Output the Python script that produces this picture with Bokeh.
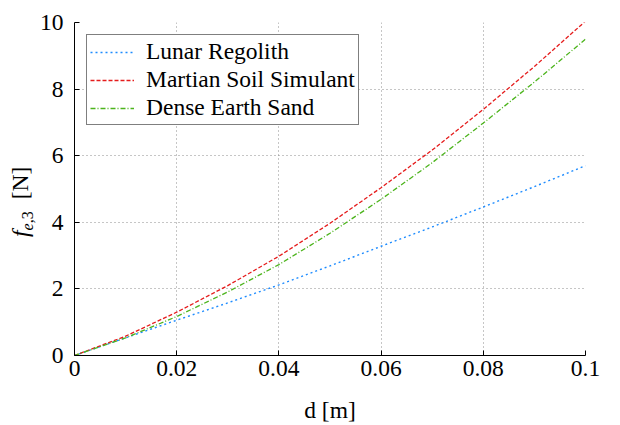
from bokeh.plotting import figure
from bokeh.layouts import row
from bokeh.models import FixedTicker, Legend, LegendItem, Range1d, Div
from bokeh.embed import file_html
from bokeh.resources import INLINE

# ---- data ----
d = [0, 0.01, 0.02, 0.03, 0.04, 0.05, 0.06, 0.07, 0.08, 0.09, 0.1]
lunar = [0, 0.53, 1.06, 1.58, 2.12, 2.69, 3.28, 3.86, 4.46, 5.07, 5.70]
martian = [0, 0.58, 1.30, 2.10, 2.98, 3.97, 5.04, 6.17, 7.39, 8.68, 10.04]
dense = [0, 0.53, 1.17, 1.91, 2.73, 3.67, 4.69, 5.79, 6.98, 8.21, 9.50]

series_names = ["Lunar Regolith", "Martian Soil Simulant", "Dense Earth Sand"]
x_ticks = [0, 0.02, 0.04, 0.06, 0.08, 0.1]
x_tick_labels = ["0", "0.02", "0.04", "0.06", "0.08", "0.1"]
y_ticks = [0, 2, 4, 6, 8, 10]
y_tick_labels = ["0", "2", "4", "6", "8", "10"]
x_title = "d [m]"
y_title_main, y_title_sub_it, y_title_sub, y_title_unit = "f", "e", ",3", "[N]"

FONT = "Liberation Serif"
FS = "23.5px"

p = figure(width=584, height=425, output_backend="svg", toolbar_location=None,
           x_range=Range1d(0, 0.1), y_range=Range1d(0, 10),
           min_border_left=37, min_border_right=35, min_border_top=22,
           min_border_bottom=68)
p.outline_line_color = None
p.background_fill_color = "white"
p.border_fill_color = "white"

r1 = p.line(d, lunar, line_color="#1e8cff", line_width=1.4, line_dash="2 3")
r2 = p.line(d, martian, line_color="#e51c1c", line_width=1.3, line_dash="4 2")
r3 = p.line(d, dense, line_color="#4cb41c", line_width=1.3, line_dash="5 2 1 2")

for ax, ticks, labels in ((p.xaxis[0], x_ticks, x_tick_labels),
                          (p.yaxis[0], y_ticks, y_tick_labels)):
    ax.ticker = FixedTicker(ticks=ticks)
    ax.major_label_overrides = dict(zip(ticks, labels))
    ax.major_label_text_font = FONT
    ax.major_label_text_font_size = FS
    ax.major_label_text_color = "black"
    ax.axis_line_color = "black"
    ax.axis_line_width = 1
    ax.major_tick_line_color = "black"
    ax.major_tick_in = 5
    ax.major_tick_out = 0
    ax.minor_tick_line_color = None
p.xaxis[0].major_label_standoff = 5
p.yaxis[0].major_label_standoff = 11

p.xaxis[0].axis_label = x_title
p.xaxis[0].axis_label_text_font = FONT
p.xaxis[0].axis_label_text_font_size = FS
p.xaxis[0].axis_label_text_font_style = "normal"
p.xaxis[0].axis_label_text_color = "black"
p.xaxis[0].axis_label_standoff = 18

for g in (p.xgrid[0], p.ygrid[0]):
    g.grid_line_color = "#8c8c8c"
    g.grid_line_dash = "1 3"
    g.grid_line_width = 1

legend = Legend(items=[LegendItem(label=series_names[0], renderers=[r1]),
                       LegendItem(label=series_names[1], renderers=[r2]),
                       LegendItem(label=series_names[2], renderers=[r3])],
                location="top_left")
legend.margin = 12
legend.padding = 3
legend.spacing = 1
legend.label_height = 24
legend.glyph_height = 24
legend.glyph_width = 44
legend.label_standoff = 12
legend.label_text_font = FONT
legend.label_text_font_size = FS
legend.label_text_color = "black"
legend.border_line_color = "black"
legend.border_line_width = 1.3
legend.background_fill_color = "white"
legend.background_fill_alpha = 1
p.add_layout(legend)

# rotated y-axis title  f_{e,3} [N]  as real HTML text
ylab_html = (
    '<div style="transform: translate(8px, 237px) rotate(-90deg); transform-origin: 0 0;'
    ' white-space: nowrap; width: max-content; font-family: \'Liberation Serif\';'
    ' font-size: 23.5px; line-height: 24px; color: black;">'
    f'<i>{y_title_main}</i>'
    f'<span style="font-size: 16px; position: relative; top: 5px;">'
    f'<i>{y_title_sub_it}</i>{y_title_sub}</span>'
    f'<span style="margin-left: 12px;">{y_title_unit}</span></div>'
)
ylab = Div(text=ylab_html, width=36, height=425, margin=0)

layout = row(ylab, p, spacing=0)
open("out.html", "w").write(file_html(layout, INLINE))
